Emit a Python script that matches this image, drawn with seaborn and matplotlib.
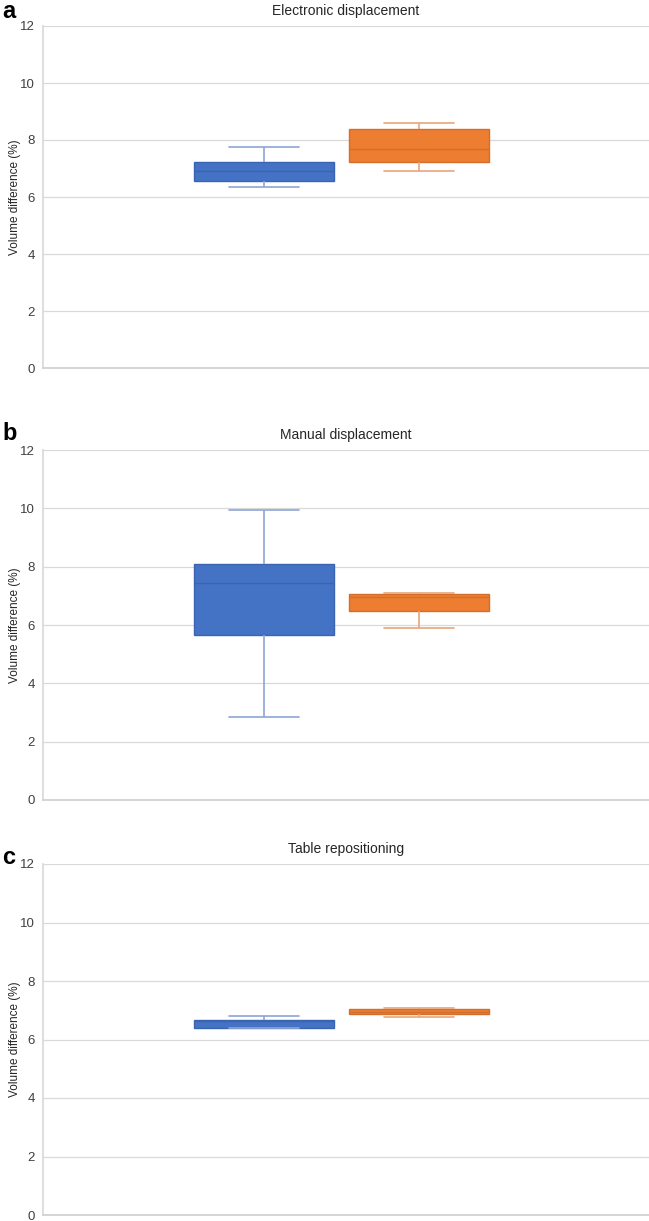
import pandas as pd
import matplotlib.pyplot as plt
import seaborn as sns

# five-number summaries (min, q1, median, q3, max)
panels = ["Electronic displacement", "Manual displacement", "Table repositioning"]
letters = ["a", "b", "c"]
series = ["Series 1", "Series 2"]

electronic_s1 = [6.34, 6.56, 6.91, 7.24, 7.75]
electronic_s2 = [6.90, 7.24, 7.69, 8.37, 8.58]
manual_s1 = [2.85, 5.66, 7.43, 8.08, 9.95]
manual_s2 = [5.90, 6.48, 6.95, 7.05, 7.10]
table_s1 = [6.41, 6.41, 6.62, 6.66, 6.79]
table_s2 = [6.77, 6.86, 6.95, 7.04, 7.07]

y_ticks = [0, 2, 4, 6, 8, 10, 12]

values = {
    panels[0]: [electronic_s1, electronic_s2],
    panels[1]: [manual_s1, manual_s2],
    panels[2]: [table_s1, table_s2],
}

rows = []
for panel in panels:
    for name, vals in zip(series, values[panel]):
        for v in vals:
            rows.append({"panel": panel, "series": name, "value": v})
df = pd.DataFrame(rows)

fill_colors = {"Series 1": "#4472C4", "Series 2": "#ED7D31"}
edge_colors = {"Series 1": "#3B64B0", "Series 2": "#D46E2B"}
whisker_colors = {"Series 1": "#8EA6D4", "Series 2": "#E8A57A"}

sns.set_theme(style="white")
plt.rcParams["font.family"] = ["Liberation Sans", "DejaVu Sans"]

fig = plt.figure(figsize=(6.49, 12.21), dpi=100)

# axes boxes in pixels: (top, bottom), plus panel letter centre
W, H = 649, 1221
boxes = [(26, 368), (450, 800), (864, 1215)]
letter_y = [11, 434, 857]
left, right = 43, 649

for i, panel in enumerate(panels):
    top, bottom = boxes[i]
    ax = fig.add_axes([left / W, 1 - bottom / H, (right - left) / W, (bottom - top) / H])
    sub = df[df["panel"] == panel]
    for name in series:
        sns.boxplot(
            data=sub[sub["series"] == name], x="panel", y="value",
            hue="series", hue_order=series, palette=fill_colors, saturation=1,
            dodge=True, width=0.514, gap=0.1, whis=(0, 100),
            linecolor=edge_colors[name], linewidth=1.0,
            whiskerprops={"color": whisker_colors[name], "linewidth": 1.2},
            capprops={"color": whisker_colors[name], "linewidth": 1.2},
            medianprops={"color": edge_colors[name], "linewidth": 1.0},
            showfliers=False, legend=False, ax=ax,
        )
    ax.set_xlim(-0.4926, 0.5074)
    ax.set_ylim(0, 12)
    ax.set_yticks(y_ticks)
    ax.set_yticklabels([str(t) for t in y_ticks], fontsize=9.5, color="#404040")
    ax.set_xticks([])
    ax.set_xlabel("")
    ax.set_ylabel("Volume difference (%)", fontsize=8.5, color="#262626")
    ax.yaxis.set_label_coords(-0.036, 0.5)
    ax.tick_params(axis="y", length=0, pad=6)
    ax.grid(axis="y", color="#D9D9D9", linewidth=0.9)
    ax.set_axisbelow(True)
    for s in ["top", "right"]:
        ax.spines[s].set_visible(False)
    ax.spines["left"].set_color("#D9D9D9")
    ax.spines["bottom"].set_color("#D0D0D0")
    ax.set_title(panel, fontsize=10, color="#262626", pad=8)
    fig.text(2 / W, 1 - letter_y[i] / H, letters[i], fontsize=17, fontweight="bold",
             va="center", ha="left", color="black")

plt.savefig("out.png", dpi=100)
